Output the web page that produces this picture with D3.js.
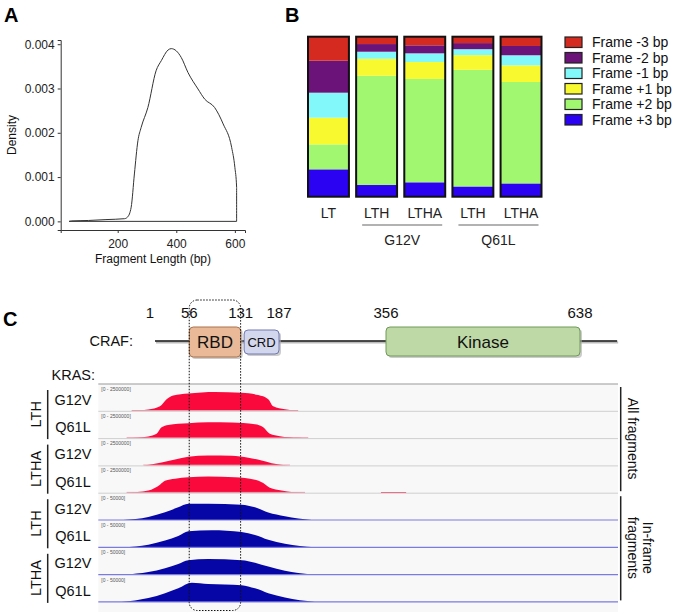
<!DOCTYPE html>
<html><head><meta charset="utf-8">
<script src="https://cdn.jsdelivr.net/npm/d3@7"></script>
<style>
html,body{margin:0;padding:0;background:#fff;}
svg{display:block;font-family:"Liberation Sans", Arial, Helvetica, sans-serif;}
</style></head><body>
<svg id="fig" width="690" height="612"></svg>
<script>
// ---------------- Panel A data ----------------
const fragLength  = [34, 43, 100, 160, 223, 234, 246, 257, 269, 280, 303, 331, 349, 372, 383, 400, 417, 440, 474, 497, 531, 560, 589, 600, 606, 606];
const fragDensity = [0, 0.00001, 0.00002, 0.00004, 0.00006, 0.0001, 0.00032, 0.00107, 0.00182, 0.00212, 0.00257, 0.0034, 0.00363, 0.00387, 0.0039, 0.00385, 0.0037, 0.00336, 0.00299, 0.00276, 0.00257, 0.0022, 0.00167, 0.00122, 0.00077, 0];
const densityTicks = [0, 0.001, 0.002, 0.003, 0.004];
const lengthTicks = [200, 400, 600];

// ---------------- Panel B data ----------------
const frameLabels = ["Frame -3 bp", "Frame -2 bp", "Frame -1 bp", "Frame +1 bp", "Frame +2 bp", "Frame +3 bp"];
const frameColors = ["#d42a1f", "#6b1379", "#82f8fb", "#f9f92f", "#a1f770", "#2c02f2"];
const barLibraries = ["LT", "LTH", "LTHA", "LTH", "LTHA"];
const barMutants = ["", "G12V", "G12V", "Q61L", "Q61L"];
const mutantGroups = ["G12V", "Q61L"];
// fractions per bar, in the order of frameLabels
const frameFractions = [
  [0.150, 0.200, 0.156, 0.167, 0.156, 0.171],
  [0.046, 0.048, 0.044, 0.106, 0.683, 0.073],
  [0.054, 0.050, 0.054, 0.106, 0.646, 0.090],
  [0.040, 0.038, 0.037, 0.092, 0.729, 0.064],
  [0.058, 0.058, 0.063, 0.104, 0.634, 0.083]
];

// ---------------- Panel C data ----------------
const crafTicks = [1, 56, 131, 187, 356, 638];
const crafBackbone = [8, 692];
const domainNames = ["RBD", "CRD", "Kinase"];
const domainStarts = [56, 136, 356];
const domainEnds = [131, 187, 638];
const domainFills = ["#e9b998", "#d3d7ee", "#bed8a6"];
const domainStrokes = ["#a9734c", "#7078b0", "#6e9a58"];

const trackLibraries = ["LTH", "LTH", "LTHA", "LTHA", "LTH", "LTH", "LTHA", "LTHA"];
const trackMutants = ["G12V", "Q61L", "G12V", "Q61L", "G12V", "Q61L", "G12V", "Q61L"];
const trackSets = ["All fragments", "All fragments", "All fragments", "All fragments", "In-frame fragments", "In-frame fragments", "In-frame fragments", "In-frame fragments"];
const trackMax = [2500000, 2500000, 2500000, 2500000, 50000, 50000, 50000, 50000];
const trackWindow = [0, 2275];   // nucleotide window shown
const rbdWindow = [398, 623];    // RBD in track coordinates

const cov_LTH_G12V_all = [[146,0],[219,120000],[270,430000],[299,1130000],[328,1490000],[394,1680000],[511,1830000],[627,1740000],[700,1520000],[744,1130000],[766,430000],[817,150000],[875,0]];
const cov_LTH_Q61L_all = [[124,0],[219,160000],[255,420000],[277,1050000],[306,1280000],[394,1450000],[481,1540000],[584,1500000],[686,1330000],[722,1050000],[751,420000],[795,190000],[875,30000],[919,0]];
const cov_LTHA_G12V_all = [[197,0],[248,160000],[306,420000],[336,580000],[394,830000],[481,960000],[584,930000],[657,740000],[715,480000],[759,220000],[839,0]];
const cov_LTHA_Q61L_all = [[124,0],[219,220000],[270,780000],[292,1150000],[336,1350000],[394,1500000],[481,1560000],[598,1500000],[686,1250000],[722,940000],[751,480000],[802,220000],[905,0],[1237,0],[1238,60000],[1347,60000],[1348,0]];
const cov_LTH_G12V_inf = [[109,0],[219,6000],[292,15000],[350,24500],[394,31500],[481,31500],[627,29750],[686,24500],[744,14500],[817,7300],[934,0]];
const cov_LTH_Q61L_inf = [[109,0],[219,5000],[292,13000],[350,22000],[394,31250],[496,33000],[627,29500],[686,23750],[744,14500],[817,7000],[948,0]];
const cov_LTHA_G12V_inf = [[117,0],[219,5000],[292,12500],[350,20500],[394,28000],[481,30000],[627,28000],[686,23000],[744,15500],[817,7500],[934,0]];
const cov_LTHA_Q61L_inf = [[102,0],[219,7500],[292,17000],[350,26250],[409,37000],[481,34500],[627,32500],[686,26250],[744,17000],[817,8750],[948,0]];
const trackCoverage = [cov_LTH_G12V_all, cov_LTH_Q61L_all, cov_LTHA_G12V_all, cov_LTHA_Q61L_all,
                       cov_LTH_G12V_inf, cov_LTH_Q61L_inf, cov_LTHA_G12V_inf, cov_LTHA_Q61L_inf];

// =====================================================
const svg = d3.select("#fig");
svg.append("rect").attr("width", 690).attr("height", 612).attr("fill", "#fff");

function panelLetter(t, x, y) {
  svg.append("text").attr("x", x).attr("y", y).text(t)
    .attr("font-size", 20).attr("font-weight", "bold").attr("fill", "#000");
}
panelLetter("A", 4, 22);
panelLetter("B", 285, 22);
panelLetter("C", 3, 326);

// ---------------- Panel A ----------------
const xA = d3.scaleLinear().domain([5.4, 634.6]).range([60.7, 245]);
const yA = d3.scaleLinear().domain([-0.000195, 0.004095]).range([230, 40]);
const gA = svg.append("g");
const axB = gA.append("g").attr("transform", "translate(0,230)")
  .call(d3.axisBottom(xA).tickValues(lengthTicks).tickSizeOuter(0).tickSize(3).tickPadding(6));
const axL = gA.append("g").attr("transform", "translate(60.7,0)")
  .call(d3.axisLeft(yA).tickValues(densityTicks).tickFormat(d3.format(".3f")).tickSizeOuter(0).tickSize(3).tickPadding(3));
[axB, axL].forEach(a => {
  a.selectAll("path,line").attr("stroke", "#333");
  a.selectAll("text").attr("font-size", 12).attr("fill", "#222").attr("font-family", null);
});
const densPts = fragLength.map((d, i) => [d, fragDensity[i]]);
gA.append("path").datum(densPts)
  .attr("d", d3.line().x(d => xA(d[0])).y(d => yA(d[1])).curve(d3.curveMonotoneX)(densPts) + "Z")
  .attr("fill", "none").attr("stroke", "#333").attr("stroke-width", 1);
gA.append("text").attr("transform", "translate(16,135) rotate(-90)").attr("text-anchor", "middle")
  .attr("font-size", 12).attr("fill", "#111").text("Density");
gA.append("text").attr("x", 153).attr("y", 263).attr("text-anchor", "middle")
  .attr("font-size", 12).attr("fill", "#111").text("Fragment Length (bp)");

// ---------------- Panel B ----------------
const barIdx = d3.range(barLibraries.length);
const xB = d3.scaleBand().domain(barIdx).range([308, 541.5]).paddingInner(0.15).paddingOuter(0);
const yB = d3.scaleLinear().domain([0, 1]).range([196.7, 36.7]);
const rows = barIdx.map(i => {
  const o = {bar: i};
  frameLabels.forEach((k, j) => o[k] = frameFractions[i][j]);
  return o;
});
const stackKeys = frameLabels.slice().reverse();
const stacked = d3.stack().keys(stackKeys)(rows);
const color = d3.scaleOrdinal().domain(frameLabels).range(frameColors);
const gB = svg.append("g");
gB.selectAll("g.layer").data(stacked).join("g").attr("class", "layer")
  .attr("fill", d => color(d.key))
  .selectAll("rect").data(d => d).join("rect")
  .attr("x", d => xB(d.data.bar)).attr("width", xB.bandwidth())
  .attr("y", d => yB(d[1])).attr("height", d => yB(d[0]) - yB(d[1]));
gB.selectAll("rect.outline").data(barIdx).join("rect").attr("class", "outline")
  .attr("x", d => xB(d)).attr("width", xB.bandwidth())
  .attr("y", yB(1)).attr("height", yB(0) - yB(1))
  .attr("fill", "none").attr("stroke", "#111").attr("stroke-width", 2);
gB.selectAll("text.lib").data(barIdx).join("text").attr("class", "lib")
  .attr("x", d => xB(d) + xB.bandwidth() / 2).attr("y", 218).attr("text-anchor", "middle")
  .attr("font-size", 14).attr("fill", "#222").text(d => barLibraries[d]);
mutantGroups.forEach(m => {
  const idx = barIdx.filter(i => barMutants[i] === m);
  const x0 = xB(idx[0]) + 6, x1 = xB(idx[idx.length - 1]) + xB.bandwidth() - 3;
  gB.append("line").attr("x1", x0).attr("x2", x1).attr("y1", 225).attr("y2", 225)
    .attr("stroke", "#666").attr("stroke-width", 1.2);
  gB.append("text").attr("x", (x0 + x1) / 2).attr("y", 245).attr("text-anchor", "middle")
    .attr("font-size", 14).attr("fill", "#222").text(m);
});
// legend
const legend = gB.append("g").attr("transform", "translate(565,37)");
frameLabels.forEach((k, i) => {
  const r = legend.append("g").attr("transform", `translate(0,${i * 15.5})`);
  r.append("rect").attr("width", 17).attr("height", 10.5).attr("fill", color(k))
    .attr("stroke", "#222").attr("stroke-width", 1.2);
  r.append("text").attr("x", 27).attr("y", 10).attr("font-size", 14).attr("fill", "#111").text(k);
});

// ---------------- Panel C ----------------
const xP = d3.scaleLinear().domain(crafTicks).range([150, 189.3, 240.7, 279, 386, 580]);
const gC = svg.append("g");
gC.selectAll("text.aa").data(crafTicks).join("text").attr("class", "aa")
  .attr("x", d => xP(d)).attr("y", 318).attr("text-anchor", "middle")
  .attr("font-size", 15).attr("fill", "#111").text(d => d);
gC.append("text").attr("x", 133).attr("y", 346).attr("text-anchor", "end")
  .attr("font-size", 14.5).attr("fill", "#111").text("CRAF:");
gC.append("line").attr("x1", xP(crafBackbone[0]) + 1).attr("x2", xP(crafBackbone[1]) + 1)
  .attr("y1", 342.5).attr("y2", 342.5).attr("stroke", "#bbb").attr("stroke-width", 2);
gC.append("line").attr("x1", xP(crafBackbone[0])).attr("x2", xP(crafBackbone[1]))
  .attr("y1", 341).attr("y2", 341).attr("stroke", "#111").attr("stroke-width", 1.6);
const domIdx = d3.range(domainNames.length);
const domTop = [327, 330, 327], domH = [30, 24, 29], domFont = [17, 13, 17];
domIdx.forEach(i => {
  const x0 = xP(domainStarts[i]), x1 = xP(domainEnds[i]);
  gC.append("rect").attr("x", x0 + 2).attr("y", domTop[i] + 2).attr("width", x1 - x0).attr("height", domH[i])
    .attr("rx", 4).attr("fill", "#aaa").attr("opacity", 0.6);
  gC.append("rect").attr("x", x0).attr("y", domTop[i]).attr("width", x1 - x0).attr("height", domH[i])
    .attr("rx", 4).attr("fill", domainFills[i]).attr("stroke", domainStrokes[i]).attr("stroke-width", 1);
  gC.append("text").attr("x", (x0 + x1) / 2).attr("y", domTop[i] + domH[i] / 2).attr("dy", "0.36em")
    .attr("text-anchor", "middle").attr("font-size", domFont[i]).attr("fill", "#111").text(domainNames[i]);
});
gC.append("text").attr("x", 95).attr("y", 380).attr("text-anchor", "end")
  .attr("font-size", 14.5).attr("fill", "#111").text("KRAS:");

// tracks
const xT = d3.scaleLinear().domain(trackWindow).range([98.3, 618]);
const tIdx = d3.range(trackCoverage.length);
const yBand = d3.scaleBand().domain(tIdx).range([384, 602.4]);
const gT = gC.append("g");
gT.append("rect").attr("x", xT(trackWindow[0])).attr("y", 384).attr("width", xT(trackWindow[1]) - xT(trackWindow[0]))
  .attr("height", 228).attr("fill", "#f8f8f8");
tIdx.forEach(i => {
  const top = yBand(i), bot = top + yBand.bandwidth();
  const yv = d3.scaleLinear().domain([0, trackMax[i]]).range([bot - 0.5, top + 1]);
  const red = trackMax[i] > 100000;
  const area = d3.area().x(d => xT(d[0])).y0(bot - 0.5).y1(d => yv(d[1])).curve(d3.curveMonotoneX);
  gT.append("path").attr("d", area(trackCoverage[i]))
    .attr("fill", red ? "#fa0a3c" : "#0606a6");
  if (red) {
    const cov = trackCoverage[i];
    gT.append("line").attr("x1", xT(cov[0][0])).attr("x2", xT(d3.max(cov.slice(0, cov.findIndex((d, j) => j > 0 && d[1] === 0) + 1), d => d[0])))
      .attr("y1", bot - 0.8).attr("y2", bot - 0.8).attr("stroke", "#f38ba0").attr("stroke-width", 1);
    gT.append("line").attr("x1", xT(trackWindow[0])).attr("x2", xT(trackWindow[1]))
      .attr("y1", bot).attr("y2", bot).attr("stroke", "#cfcfcf").attr("stroke-width", 1);
  } else {
    gT.append("line").attr("x1", xT(trackWindow[0])).attr("x2", xT(trackWindow[1]))
      .attr("y1", bot - 0.5).attr("y2", bot - 0.5).attr("stroke", "#7a7ae0").attr("stroke-width", 1.2);
  }
  gT.append("text").attr("x", xT(trackWindow[0]) + 3).attr("y", top + 6.5)
    .attr("font-size", 5).attr("fill", "#555").text(`[0 - ${trackMax[i]}]`);
  gC.append("text").attr("x", 73).attr("y", (top + bot) / 2 + 7).attr("text-anchor", "middle")
    .attr("font-size", 14.5).attr("fill", "#111").text(trackMutants[i]);
});
gT.append("line").attr("x1", xT(trackWindow[0])).attr("x2", xT(trackWindow[1])).attr("y1", 384).attr("y2", 384)
  .attr("stroke", "#999").attr("stroke-width", 1.2);

// library group brackets on left
for (let i = 0; i < tIdx.length; i += 2) {
  const top = yBand(i), bot = yBand(i + 1) + yBand.bandwidth();
  gC.append("line").attr("x1", 47.7).attr("x2", 47.7).attr("y1", top + 6).attr("y2", bot + 0.5)
    .attr("stroke", "#222").attr("stroke-width", 1.5);
  gC.append("text").attr("transform", `translate(41,${(top + bot) / 2 + 3}) rotate(-90)`)
    .attr("text-anchor", "middle").attr("font-size", 14.5).attr("fill", "#111").text(trackLibraries[i]);
}
// fragment set brackets on right
const setNames = Array.from(new Set(trackSets));
setNames.forEach(s => {
  const idx = tIdx.filter(i => trackSets[i] === s);
  const top = yBand(idx[0]), bot = yBand(idx[idx.length - 1]) + yBand.bandwidth();
  gC.append("line").attr("x1", 620.7).attr("x2", 620.7).attr("y1", top + 3).attr("y2", bot - 2)
    .attr("stroke", "#222").attr("stroke-width", 1.5);
  const words = s === "All fragments" ? ["All fragments"] : ["In-frame", "fragments"];
  const t = gC.append("text").attr("transform", `translate(632,${(top + bot) / 2}) rotate(90)`)
    .attr("text-anchor", "middle").attr("font-size", 14).attr("fill", "#111");
  words.forEach((w, k) => t.append("tspan").attr("x", 0).attr("y", (k - (words.length - 1)) * 15 + 4).text(w));
});

// dotted RBD highlight box
const bx0 = xT(rbdWindow[0]), bx1 = xT(rbdWindow[1]);
gC.append("rect").attr("x", bx0).attr("y", 300).attr("width", bx1 - bx0).attr("height", 310.5)
  .attr("rx", 8).attr("fill", "none").attr("stroke", "#111").attr("stroke-width", 1)
  .attr("stroke-dasharray", "1.5,1.5");
</script>
</body></html>
